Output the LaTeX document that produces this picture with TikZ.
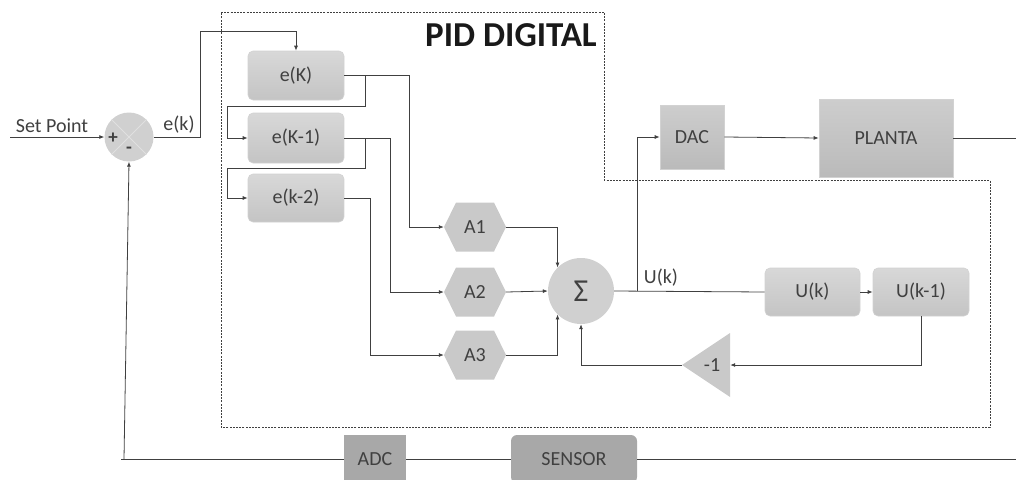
\documentclass[tikz,border=0pt]{standalone}
\usepackage{fontspec}
\setmainfont{Carlito}
\usetikzlibrary{arrows.meta,calc}
\definecolor{ink}{HTML}{404040}
\definecolor{boxtop}{HTML}{D8D8D8}
\definecolor{boxbot}{HTML}{C4C4C4}
\definecolor{boxedge}{HTML}{D2D2D2}
\definecolor{hexfill}{HTML}{C9C9C9}
\definecolor{darkbox}{HTML}{A8A8A8}
\definecolor{sumfill}{HTML}{D0D0D0}
\begin{document}
\begin{tikzpicture}[x=1pt,y=-1pt,
  font=\fontsize{20}{24}\selectfont, text=ink,
  wire/.style={draw=ink, line width=0.8pt},
  arr/.style={wire, -{Latex[length=5pt,width=4pt]}},
  regbox/.style={rounded corners=5pt, top color=boxtop, bottom color=boxbot,
    draw=boxedge, line width=0.6pt, minimum width=96pt, minimum height=49pt, inner sep=0pt},
  sqbox/.style={top color=boxtop!95!black, bottom color=boxbot!95!black,
    draw=boxedge, line width=0.6pt, inner sep=0pt},
  darkbox/.style={fill=darkbox, draw=none, inner sep=0pt, minimum height=48pt},
  hexbox/.style={minimum width=62pt, minimum height=49pt, inner sep=0pt,
    path picture={\fill[hexfill]
      (path picture bounding box.west)
      -- ([xshift=12pt]path picture bounding box.north west)
      -- ([xshift=-12pt]path picture bounding box.north east)
      -- (path picture bounding box.east)
      -- ([xshift=-12pt]path picture bounding box.south east)
      -- ([xshift=12pt]path picture bounding box.south west) -- cycle;}},
  gainbox/.style={minimum width=48pt, minimum height=64pt, inner sep=0pt,
    path picture={\fill[hexfill]
      (path picture bounding box.west)
      -- (path picture bounding box.north east)
      -- (path picture bounding box.south east) -- cycle;}},
  sumnode/.style={circle, fill=sumfill, draw=none, inner sep=0pt},
  border/.style={draw=ink, line width=0.7pt, dash pattern=on 2pt off 1.2pt}
]
\useasboundingbox (0,0) rectangle (1016,479);

% controller boundary
\draw[border] (221,12) -- (604,12) -- (604,180) -- (990,180) -- (990,427) -- (221,427) -- cycle;
\node[font=\fontsize{35}{40}\selectfont\bfseries, text=black!90] (title) at (511,35) {PID DIGITAL};

% error junction
\node[sumnode, minimum size=49pt] (sum) at (129,137) {};
\draw[draw=black!12, line width=0.8pt] (sum.45) -- (sum.225) (sum.135) -- (sum.315);
\node[font=\fontsize{19}{20}\selectfont\bfseries] (plus) at (113,138) {+};
\node[font=\fontsize{19}{20}\selectfont\bfseries] (minus) at (129,150) {-};
\coordinate (sp) at (10,137);
\node (splabel) at (52,126) {Set Point};
\draw[arr] (sp) -- (sum.west);

% error history
\node[regbox] (eK)  at (296,75.5) {e(K)};
\node[regbox, minimum height=50pt] (eK1) at (296,138) {e(K-1)};
\node[regbox, minimum height=48pt] (eK2) at (296,198) {e(k-2)};

\draw[arr] (sum.east) -- ++(47,0) |- ([yshift=19pt]eK.north) -- (eK.north);
\node (eklabel) at (179,125) {e(k)};

% gains
\node[hexbox] (A1) at (475,227) {A1};
\node[hexbox] (A2) at (475,292) {A2};
\node[hexbox] (A3) at (475,355) {A3};

\draw[arr] (eK.east) -| ([xshift=-34pt]A1.west) -- (A1.west);
\draw[arr] ([xshift=21pt]eK.east) |- (227,106) |- (eK1.west);
\draw[arr] (eK1.east) -| ([xshift=-53pt]A2.west) -- (A2.west);
\draw[arr] ([xshift=21pt]eK1.east) |- (227,168) |- (eK2.west);
\draw[arr] (eK2.east) -| ([xshift=-73pt]A3.west) -- (A3.west);

% sum
\node[sumnode, minimum size=66pt, font=\fontsize{32}{36}\selectfont] (sig) at (581,291) {Σ};
\draw[arr] (A1.east) -| (sig.north west);
\draw[arr] (A2.east) -- (sig.west);
\draw[arr] (A3.east) -| (sig.south west);

% output path
\node[sqbox, minimum width=64pt, minimum height=64pt] (DAC) at (692,137) {DAC};
\node[sqbox, minimum width=134pt, minimum height=78pt] (plant) at (886,138) {PLANTA};
\coordinate (out) at (1016,138);
\draw[arr] ([xshift=23pt]sig.east) |- (DAC.west);
\draw[arr] (DAC.east) -- (plant.west);
\draw[wire] (plant.east) -- (out);

% output history
\node[regbox, minimum width=95pt, minimum height=48pt] (Uk)  at (812.5,292) {U(k)};
\node[regbox, minimum width=96pt, minimum height=48pt] (Uk1) at (921,292) {U(k-1)};
\draw[wire] (sig.east) -- (Uk.west);
\node (uklabel) at (661,278) {U(k)};
\draw[arr] (Uk.east) -- (Uk1.west);

\node[gainbox] (neg) at (706,365) {\hspace*{12pt}-1};
\draw[arr] (Uk1.south) |- (neg.east);
\draw[arr] (neg.west) -| (sig.south);

% measurement path
\node[darkbox, minimum width=62pt] (ADC) at (375,459) {ADC};
\node[darkbox, minimum width=126pt, rounded corners=6pt] (sensor) at (574,459) {SENSOR};
\coordinate (meas) at (1016,459);
\coordinate (fbend) at (121,459);
\coordinate (fbfoot) at (124,459);
\draw[wire] (meas) -- (sensor.east);
\draw[wire] (sensor.west) -- (ADC.east);
\draw[wire] (ADC.west) -- (fbend);
\draw[arr] (fbfoot) -- (sum.south);
\end{tikzpicture}
\end{document}
